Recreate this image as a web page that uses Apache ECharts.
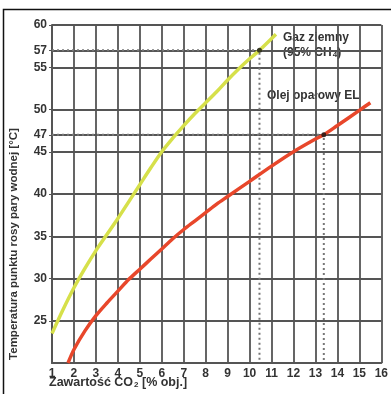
<!DOCTYPE html>
<html><head><meta charset="utf-8">
<script src="https://cdn.jsdelivr.net/npm/echarts@6/dist/echarts.min.js"></script>
<style>html,body{margin:0;padding:0;background:#fff}#c{width:391px;height:394px}</style>
</head><body><div id="c"></div>
<script>
const gasX = [1, 1.5, 2, 2.5, 3, 3.5, 4, 4.5, 5, 5.5, 6, 6.5, 7, 7.5, 8, 8.5, 9, 9.5, 10, 10.45, 11.2];
const gasY = [23.5, 26.3, 28.9, 31.2, 33.3, 35.2, 37.1, 39.1, 41.1, 43.1, 45.0, 46.6, 48.1, 49.5, 50.8, 52.1, 53.5, 54.8, 56.0, 57.0, 58.9];
const oilX = [1.73, 2, 2.5, 3, 3.5, 4, 4.5, 5, 5.5, 6, 6.5, 7, 7.5, 8, 8.5, 9, 10, 11, 12, 13, 13.38, 14, 15, 15.5];
const oilY = [20, 21.6, 23.8, 25.6, 27.1, 28.5, 29.9, 31.1, 32.3, 33.5, 34.7, 35.8, 36.8, 37.8, 38.8, 39.7, 41.5, 43.3, 45.0, 46.5, 47.0, 48.1, 49.9, 50.8];
const xTicks = [1,2,3,4,5,6,7,8,9,10,11,12,13,14,15,16];
const yTicks = [25,30,35,40,45,47,50,55,57,60];
const gasMark = [10.45, 57];
const oilMark = [13.38, 47];
const gasLabel = ['Gaz ziemny', '(95% CH{s|4})'];
const oilLabel = 'Olej opałowy EL';
const yTitle = 'Temperatura punktu rosy pary wodnej [°C]';
const xTitle = 'Zawartość CO{s|2} [% obj.]';

const chart = echarts.init(document.getElementById('c'));
const font = 'Liberation Sans';
const gridC = '#555';
const txt = '#333';
const sub = {s: {fontSize: 8, fontWeight: 'bold', fontFamily: font, fill: txt, padding: [5, 0, 0, 1]}};
chart.setOption({
  animation: false,
  grid: {left: 52, right: 9, top: 25, bottom: 31},
  xAxis: {
    type: 'value', min: 1, max: 16, interval: 1,
    axisLine: {show: true, lineStyle: {color: gridC, width: 2}},
    axisTick: {show: false},
    axisLabel: {color: txt, fontFamily: font, fontWeight: 'bold', fontSize: 12, margin: 5,
      customValues: xTicks},
    splitLine: {show: true, lineStyle: {color: gridC, width: 1.8}}
  },
  yAxis: {
    type: 'value', min: 20, max: 60, interval: 5,
    axisLine: {show: true, lineStyle: {color: gridC, width: 2}},
    axisTick: {show: true, length: 3, lineStyle: {color: gridC}, customValues: yTicks},
    axisLabel: {color: txt, fontFamily: font, fontWeight: 'bold', fontSize: 12, margin: 5,
      customValues: yTicks},
    splitLine: {show: true, lineStyle: {color: gridC, width: 1.8}}
  },
  series: [
    {type: 'line', data: [[1, gasMark[1]], gasMark, [gasMark[0], 20]], symbol: 'none',
     lineStyle: {color: '#777', width: 2, type: [2, 3]}, z: 3},
    {type: 'line', data: [[1, oilMark[1]], oilMark, [oilMark[0], 20]], symbol: 'none',
     lineStyle: {color: '#777', width: 2, type: [2, 3]}, z: 3},
    {type: 'line', data: gasX.map((x, i) => [x, gasY[i]]), smooth: 0.3, symbol: 'none',
     lineStyle: {color: '#d6e04a', width: 3.5}, z: 4},
    {type: 'line', data: oilX.map((x, i) => [x, oilY[i]]), smooth: 0.3, symbol: 'none',
     lineStyle: {color: '#e8472b', width: 3.5}, z: 4},
    {type: 'scatter', data: [gasMark, oilMark], symbolSize: 5, itemStyle: {color: '#111'}, z: 5}
  ],
  graphic: [
    {type: 'rect', shape: {x: 3.5, y: 9.5, width: 400, height: 400}, style: {fill: 'none', stroke: '#111', lineWidth: 1.5}, silent: true},
    {type: 'text', x: 283, y: 32, style: {text: gasLabel[0], font: 'bold 12px ' + font, fill: txt}},
    {type: 'text', x: 283, y: 46, style: {text: gasLabel[1], font: 'bold 12px ' + font, fill: txt, rich: sub}},
    {type: 'text', x: 267, y: 90, style: {text: oilLabel, font: 'bold 12px ' + font, fill: txt}},
    {type: 'text', x: 49, y: 376, style: {text: xTitle, font: 'bold 12.5px ' + font, fill: txt, rich: sub}},
    {type: 'text', x: 14, y: 244, rotation: Math.PI / 2,
     style: {text: yTitle, font: 'bold 11.5px ' + font, fill: txt, align: 'center', verticalAlign: 'middle'}}
  ]
});
</script></body></html>
